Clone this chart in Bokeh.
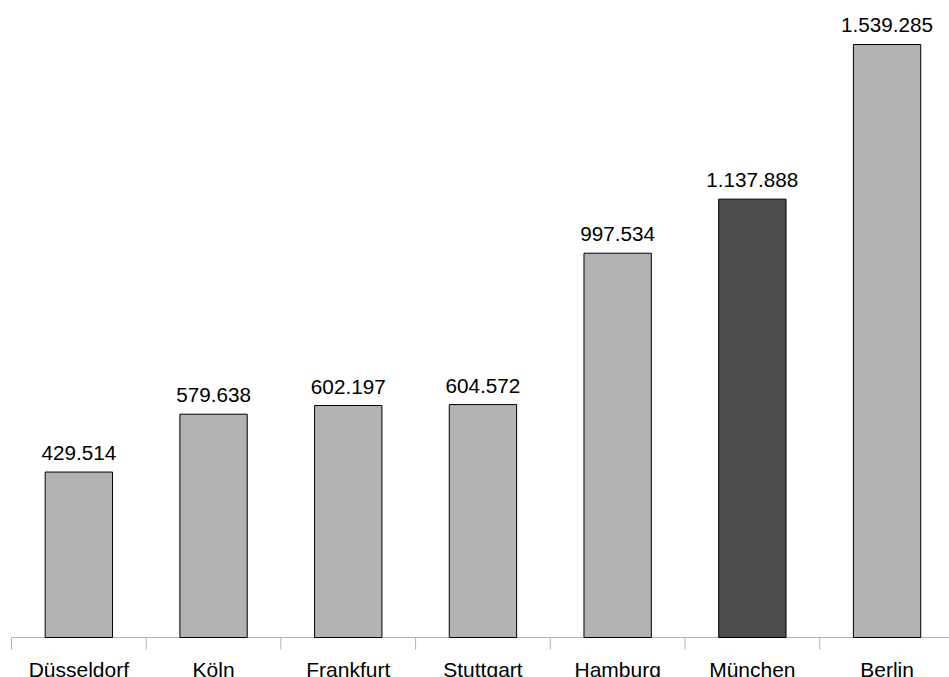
from bokeh.plotting import figure
from bokeh.models import ColumnDataSource, Range1d
from bokeh.core.properties import value
from bokeh.embed import file_html
from bokeh.resources import INLINE
import math

cities = ["Düsseldorf", "Köln", "Frankfurt", "Stuttgart", "Hamburg", "München", "Berlin"]
values = [429514, 579638, 602197, 604572, 997534, 1137888, 1539285]
labels = ["429.514", "579.638", "602.197", "604.572", "997.534", "1.137.888", "1.539.285"]
highlight = "München"

xs = list(range(len(cities)))
colors = ["#4d4d4d" if c == highlight else "#b3b3b3" for c in cities]

src = ColumnDataSource(dict(x=xs, v=values, lab=labels, city=cities, color=colors))

p = figure(width=949, height=677, output_backend="svg", toolbar_location=None,
           x_range=Range1d(-0.5817, 6.4636), y_range=Range1d(-103830, 1653496),
           min_border=0, min_border_left=0, min_border_right=0,
           min_border_top=0, min_border_bottom=0)
p.axis.visible = False
p.grid.visible = False
p.outline_line_color = None
p.background_fill_color = "white"
p.border_fill_color = "white"

# axis line and boundary ticks
n = len(cities)
p.segment(x0=[-0.5], y0=[0], x1=[n - 0.5], y1=[0], line_color="#b3b3b3", line_width=1)
bounds = [i - 0.5 for i in range(n + 1)]
p.ray(x=bounds, y=[0] * len(bounds), length=12, length_units="screen",
      angle=-math.pi / 2, line_color="#b3b3b3", line_width=1)

p.vbar(x="x", top="v", bottom=0, width=0.5, source=src,
       fill_color="color", line_color="black", line_width=1)

p.text(x="x", y="v", text="lab", source=src, text_align="center",
       text_baseline="alphabetic", y_offset=-19, text_font=value("Liberation Sans"),
       text_font_size="20.7px", text_color="black")

p.text(x="x", y=0, text="city", source=src, text_align="center",
       text_baseline="alphabetic", y_offset=32, text_font=value("Liberation Sans"),
       text_font_size="21px", text_color="black")

open("out.html", "w").write(file_html(p, INLINE))
